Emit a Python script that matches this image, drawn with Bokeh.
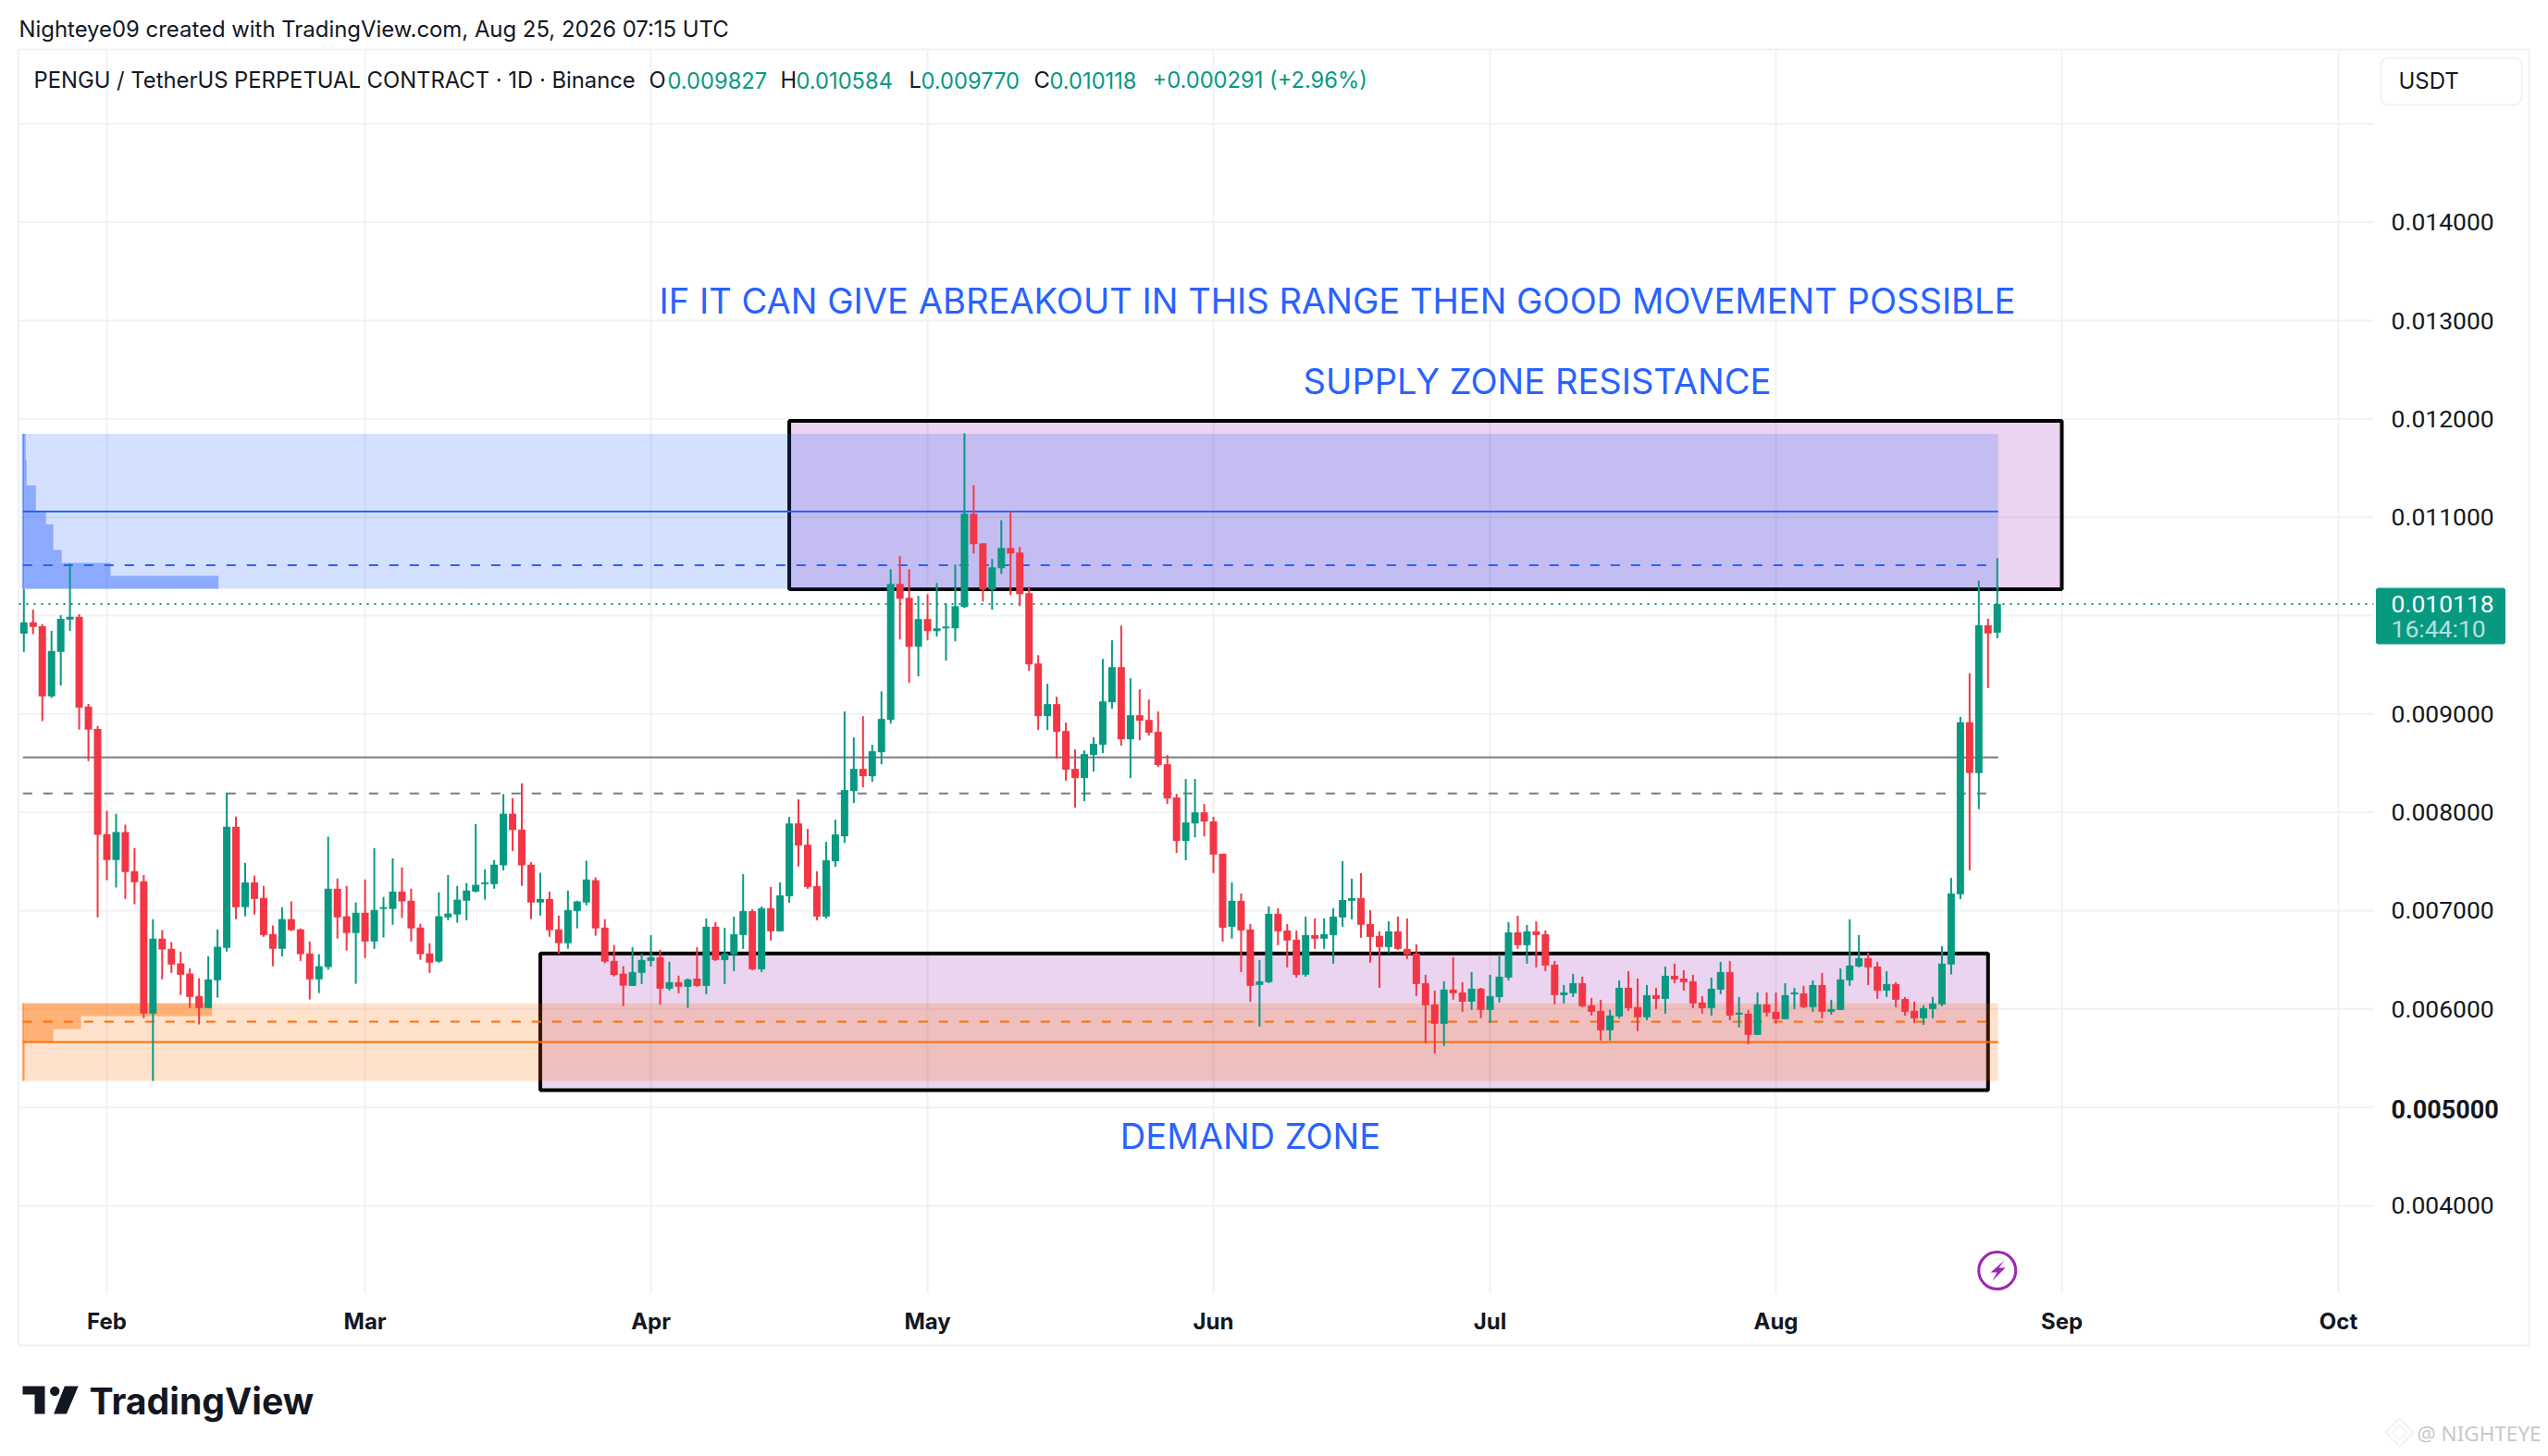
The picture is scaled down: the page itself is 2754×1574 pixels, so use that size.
import math
from bokeh.plotting import figure
from bokeh.embed import file_html
from bokeh.resources import INLINE
from bokeh.core.properties import value
from bokeh.models import (ColumnDataSource, FixedTicker, Label, BoxAnnotation, PolyAnnotation)

# ---- data, prices in millionths of USDT, one candle per day from 23 Jan 2026 ----
directions = ("GRRGGGRRRR" "GRRRGRRRRR" "GGGRGRRRGR" "RRGGRRGRGG" "GRRRRGGGGG"
              "GGGRRRGRRG" "GGRRRRGGGR" "GRGRGRGGGR" "GRGGRRRGGG" "GRGGGRRGRG"
              "GGGRRGGRRR" "RGRRRGGGGR" "GRRRRRGGRR" "RGRRGGRRRG" "RGGGGRRRGR"
              "RRRRGRRGRG" "GGRGRRRGGR" "RRGGRRGRGR" "RRRGGRGRGR" "RGGRGRGGGG"
              "RRGRRRGGGG" "GRGRG")
highs = [10270,10061,9914,9845,10004,10529,10014,9101,8878,8015,
 7986,7874,7637,7363,6914,6802,6680,6583,6414,6313,
 6536,6810,8198,7957,7486,7356,7252,6849,7036,7094,
 6820,6687,6558,7752,7327,7252,7083,7317,7637,7140,
 7533,7439,7223,6867,6669,7187,7363,7252,7281,7881,
 7421,7515,8184,8144,8295,7493,7385,7194,6950,7205,
 7101,7507,7338,6914,6651,6435,6630,6564,6752,6602,
 6480,6339,6310,6630,6921,6884,6827,6940,7372,7015,
 7043,7241,7288,7953,8132,7831,7401,7699,7925,9025,
 8762,8978,8686,9231,10472,10604,10472,10200,10218,10331,
 10124,10519,11854,11327,10735,10576,10970,11064,10698,10294,
 9598,9307,9175,8912,8639,8630,8762,9560,9749,9899,
 9363,9250,9147,9025,8583,8188,8339,8339,8085,7955,
 7579,7288,7175,6865,6498,7044,7025,6865,6799,6940,
 6921,6921,7025,7504,7326,7382,7006,6790,6893,6940,
 6921,6658,6348,6188,6282,6527,6273,6376,6216,6348,
 6555,6884,6949,6855,6893,6799,6489,6244,6357,6329,
 6113,6094,5991,6291,6385,6310,6244,6216,6432,6461,
 6395,6348,6132,6320,6479,6489,6122,5991,6169,6169,
 6169,6263,6216,6235,6291,6367,6094,6414,6912,6752,
 6573,6479,6385,6273,6122,6075,6038,6122,6639,7334,
 8971,9415,10355,9969,10584]
lows = [9630,9813,8928,9162,9291,9845,8842,8522,6932,7310,
 7234,7119,7065,5907,5270,6302,6367,6144,6011,5842,
 6011,6115,6583,6914,6943,6961,6734,6435,6536,6792,
 6489,6097,6162,6400,6716,6594,6256,6518,6612,6727,
 6856,6925,6687,6500,6367,6471,6903,6878,6903,7187,
 7112,7223,7410,7608,7252,6914,6950,6734,6561,6612,
 6820,7054,6745,6464,6331,6029,6235,6254,6433,6047,
 6188,6160,6010,6226,6151,6489,6254,6386,6611,6395,
 6376,6696,6790,7081,7449,7222,6902,6921,7446,7690,
 8094,8254,8310,8489,8902,9758,9316,9382,9749,9786,
 9542,9739,10077,10632,10143,10059,10425,10209,10096,9438,
 8837,8837,8545,8320,8047,8113,8414,8602,9053,8677,
 8348,8733,8780,8461,8085,7587,7512,7746,7756,7382,
 6686,6715,6376,6075,5822,6263,6649,6423,6320,6329,
 6611,6611,6461,6837,6912,6724,6470,6216,6574,6602,
 6508,6132,5653,5549,5624,6094,5972,5991,5906,5859,
 6066,6291,6611,6461,6423,6385,6047,6057,6122,6019,
 5934,5681,5681,5906,5981,5775,5887,6000,5953,6263,
 6188,6009,5953,5934,6151,5887,5812,5643,5737,5925,
 5850,5897,6000,6009,5972,5906,5944,5991,6235,6423,
 6244,6103,6122,6019,5934,5859,5840,5906,6028,6352,
 7116,7410,8031,9264,9770]
body_tops = [9932,9932,9892,9640,9968,9989,9989,9076,8849,7777,
 7799,7799,7403,7299,6716,6716,6612,6464,6360,6133,
 6302,6633,7853,7853,7288,7288,7130,6763,6914,6914,
 6810,6565,6435,7223,7223,6943,6979,6979,7007,7036,
 7194,7194,7101,6828,6565,6943,6971,7112,7205,7263,
 7288,7468,7986,7986,7824,7468,7119,7119,6810,7007,
 7094,7317,7310,6828,6489,6360,6376,6498,6527,6527,
 6273,6273,6301,6310,6837,6837,6564,6761,6996,6996,
 7025,7025,7156,7887,7887,7671,7250,7512,7775,8226,
 8442,8442,8621,8950,10322,10322,10181,9965,9965,9871,
 9889,10096,11036,11036,10735,10491,10688,10688,10641,10228,
 9513,9100,9100,8827,8442,8592,8696,9128,9476,9476,
 8987,8987,8940,8818,8489,8151,7897,8000,8000,7908,
 7579,7100,7100,6809,6282,6968,6968,6799,6705,6752,
 6752,6762,6940,7109,7128,7128,6865,6743,6790,6790,
 6611,6564,6263,6047,6198,6198,6169,6207,6207,6132,
 6329,6780,6780,6790,6790,6761,6451,6169,6263,6263,
 6038,5981,5934,6216,6216,6019,6141,6141,6338,6338,
 6310,6282,6066,6207,6376,6376,5963,5953,6047,6047,
 5972,6141,6169,6160,6244,6244,6000,6301,6442,6517,
 6517,6432,6254,6254,6103,5981,6009,6057,6461,7175,
 8916,8916,9902,9902,10118]
body_bottoms = [9817,9885,9180,9180,9630,9961,9065,8842,7770,7515,
 7515,7392,7288,5953,5953,6605,6453,6349,6122,6011,
 6011,6292,6622,7036,7036,7119,6752,6612,6612,6802,
 6558,6302,6302,6425,6932,6773,6773,6687,6687,7018,
 7018,7094,6820,6558,6471,6482,6932,6961,7101,7194,
 7270,7270,7461,7820,7461,7083,7083,6802,6669,6669,
 6997,7083,6820,6482,6346,6238,6235,6367,6489,6207,
 6207,6226,6226,6235,6235,6498,6498,6555,6752,6404,
 6404,6790,6790,7147,7662,7241,6940,6940,7502,7756,
 8216,8367,8367,8611,8940,10171,9683,9683,9842,9842,
 9871,9871,10087,10726,10265,10265,10482,10632,10218,9504,
 8978,8978,8818,8433,8348,8348,8583,8686,9119,8743,
 8743,8931,8809,8480,8141,7709,7709,7887,7906,7570,
 6827,6837,6799,6235,6245,6273,6790,6696,6348,6348,
 6715,6715,6752,6931,7100,6856,6733,6630,6630,6611,
 6555,6254,6038,5850,5850,6160,6075,6075,5991,5991,
 6122,6320,6649,6649,6752,6442,6141,6141,6160,6028,
 5972,5784,5784,5925,6009,5916,5916,6103,6103,6301,
 6273,6057,6009,6009,6197,5934,5944,5737,5737,5963,
 5897,5897,6150,6019,6019,5972,5972,5991,6291,6432,
 6423,6188,6188,6094,5972,5906,5906,6000,6047,6453,
 7166,8400,8400,9818,9827]
assert len(directions) == len(highs) == len(lows) == len(body_tops) == len(body_bottoms) == 215

month_labels = ["Feb", "Mar", "Apr", "May", "Jun", "Jul", "Aug", "Sep", "Oct"]
month_positions = [9, 37, 68, 98, 129, 159, 190, 221, 251]
price_ticks = [4000, 6000, 7000, 8000, 9000, 10000, 11000, 12000, 13000, 14000]
grid_prices = [4000, 5000, 6000, 7000, 8000, 9000, 10000, 11000, 12000, 13000, 14000, 15000]
last_close = 10118

# zones: [start candle, end candle, bottom price, top price]
supply_zone = [83, 221, 10269, 11979]
demand_zone = [56, 213, 5175, 6566]
# volume profiles
upper_range = [10273, 11848]
upper_bins = [21.2, 9.5, 4.2, 3.3, 3.3, 2.5, 1.4, 1.4, 0.4, 0.4, 0.3, 0.3]
upper_poc, upper_dash = 11059, 10513
lower_range = [5269, 6059]
lower_bins = [0.2, 0.2, 0.2, 3.3, 6.3, 20.5]
lower_poc, lower_dash = 5664, 5871
mid_solid, mid_dash = 8558, 8192
profile_start, profile_end = -0.1, 214.1

# ---- layout ----
W, H = 2754, 1574
PL, PR, PT, PB = 20, 2565, 53, 1398            # price pane in page pixels
def dx(X): return 9 + (X - 115) / 9.967
def dy(Y): return 14000 - (Y - 239.7) * 9.405

GREEN, RED, BLUE, ORANGE, GREY = "#089981", "#F23645", "#2962FF", "#FF6D00", "#787B86"
PURPLE = "#9C27B0"
GRID = "#F0F1F3"
INK = "#131722"
FONT = "Inter"
PRICE_FONT = "Roboto"

p = figure(width=W, height=H, output_backend="svg", toolbar_location=None,
           x_range=(dx(0), dx(W)), y_range=(dy(H), dy(0)), y_axis_location="right",
           min_border_left=0, min_border_right=0, min_border_top=0, min_border_bottom=0,
           background_fill_color="white", border_fill_color="white",
           outline_line_color=None)
p.grid.visible = False

p.xaxis.fixed_location = dy(PB)
p.xaxis.ticker = FixedTicker(ticks=month_positions)
p.xaxis.major_label_overrides = dict(zip(month_positions, month_labels))
p.xaxis.major_label_text_font = FONT
p.xaxis.major_label_text_font_style = "bold"
p.xaxis.major_label_text_font_size = "24px"
p.xaxis.major_label_text_color = INK
p.xaxis.major_label_standoff = 15
p.xaxis.major_tick_out = 0
p.xaxis.major_tick_in = 0
p.xaxis.axis_line_color = None
p.xaxis.major_tick_line_color = None
p.xaxis.minor_tick_line_color = None

p.yaxis.fixed_location = dx(PR)
p.yaxis.ticker = FixedTicker(ticks=price_ticks)
p.yaxis.major_label_overrides = {v: f"{v / 1e6:.6f}" for v in price_ticks}
p.yaxis.major_label_text_font = PRICE_FONT
p.yaxis.major_label_text_font_size = "26.5px"
p.yaxis.major_label_text_color = INK
p.yaxis.major_label_standoff = 19
p.yaxis.major_tick_out = 0
p.yaxis.major_tick_in = 0
p.yaxis.axis_line_color = None
p.yaxis.major_tick_line_color = None
p.yaxis.minor_tick_line_color = None

# grid, only inside the price pane
p.segment(x0=month_positions, x1=month_positions, y0=[dy(PB)] * len(month_positions),
          y1=[dy(PT)] * len(month_positions), line_color=GRID, line_width=2)
p.segment(x0=[dx(PL)] * len(grid_prices), x1=[dx(PR)] * len(grid_prices), y0=grid_prices, y1=grid_prices,
          line_color=GRID, line_width=2)

# frame round the chart and price box
fl, fr, ft, fb = dx(19.5), dx(2733), dy(53), dy(1454)
p.segment(x0=[fl, fl, fl, fr], x1=[fr, fr, fl, fr], y0=[ft, fb, fb, fb], y1=[ft, fb, ft, ft],
          line_color=GRID, line_width=2)
p.add_layout(BoxAnnotation(left=dx(2573), right=dx(2725), top=dy(62), bottom=dy(113),
                           fill_color="white", fill_alpha=1, line_color=GRID, line_alpha=1,
                           line_width=2, border_radius=8))

# zones
for z in (supply_zone, demand_zone):
    p.quad(left=[z[0]], right=[z[1]], bottom=[z[2]], top=[z[3]],
           fill_color=PURPLE, fill_alpha=0.2, line_color="black", line_width=4)

# volume profiles
def profile(rng, bins, color, poc, dash):
    p.quad(left=[profile_start], right=[profile_end], bottom=[rng[0]], top=[rng[1]],
           fill_color=color, fill_alpha=0.2, line_color=None)
    step = (rng[1] - rng[0]) / len(bins)
    bottoms = [rng[0] + k * step for k in range(len(bins))]
    tops = [b + step for b in bottoms]
    p.quad(left=[profile_start] * len(bins), right=[profile_start + b for b in bins],
           bottom=bottoms, top=tops, fill_color=color, fill_alpha=0.42, line_color=None)
    p.segment(x0=[profile_start], x1=[profile_start], y0=[rng[0]], y1=[rng[1]],
              line_color=color, line_width=2, line_alpha=0.5)
    p.segment(x0=[profile_start], x1=[profile_end], y0=[poc], y1=[poc], line_color=color, line_width=2)
    p.segment(x0=[profile_start], x1=[profile_end - 1], y0=[dash], y1=[dash],
              line_color=color, line_width=2, line_dash="10 12")

profile(upper_range, upper_bins, BLUE, upper_poc, upper_dash)
profile(lower_range, lower_bins, ORANGE, lower_poc, lower_dash)
p.segment(x0=[profile_start], x1=[profile_end], y0=[mid_solid], y1=[mid_solid], line_color=GREY, line_width=2)
p.segment(x0=[profile_start], x1=[profile_end - 1], y0=[mid_dash], y1=[mid_dash],
          line_color=GREY, line_width=2, line_dash="10 12")

# last price line
p.segment(x0=[dx(PL)], x1=[dx(PR)], y0=[last_close], y1=[last_close], line_color=GREEN, line_width=2, line_dash="2 6")

# candles
idx = list(range(len(highs)))
colors = [GREEN if d == "G" else RED for d in directions]
src = ColumnDataSource(dict(i=idx, high=highs, low=lows, top=body_tops, bottom=body_bottoms, color=colors))
p.segment(x0="i", x1="i", y0="low", y1="high", line_color="color", line_width=2, source=src)
p.vbar(x="i", width=0.8, top="top", bottom="bottom", fill_color="color", line_color=None, source=src)

# chart notes
notes = [("IF IT CAN GIVE ABREAKOUT IN THIS RANGE THEN GOOD MOVEMENT POSSIBLE", 1445, 324),
         ("SUPPLY ZONE RESISTANCE", 1661, 411),
         ("DEMAND ZONE", 1351, 1227)]
p.text(x=[dx(n[1]) for n in notes], y=[dy(n[2]) for n in notes], text=[n[0] for n in notes],
       text_font=value(FONT), text_font_size="38.1px", text_color=BLUE,
       text_align="center", text_baseline="middle")

# lightning mark
p.scatter(x=[214], y=[dy(1373)], marker="circle", size=40, fill_color=None, line_color=PURPLE, line_width=3)
bolt = [(2166, 1362), (2151, 1375), (2158, 1375), (2153, 1384), (2167, 1370), (2160, 1370)]
p.add_layout(PolyAnnotation(xs=[dx(a) for a, _ in bolt], ys=[dy(b) for _, b in bolt],
                            fill_color=PURPLE, fill_alpha=1, line_color=None))

# last price tag
p.add_layout(BoxAnnotation(left=dx(2567.5), right=dx(2707.5), top=dy(635), bottom=dy(696),
                           fill_color=GREEN, fill_alpha=1, line_color=None, border_radius=3))

def lab(text, X, Y, size, color=INK, style="normal", align="left", font=FONT):
    p.add_layout(Label(x=dx(X), y=dy(Y), text=text, text_font=font, text_font_size=f"{size}px",
                       text_color=color, text_font_style=style, text_align=align,
                       text_baseline="middle"))

lab("0.010118", 2584, 652, 26.5, "white", font=PRICE_FONT)
lab("16:44:10", 2584, 679, 26.5, "#B5E0D9", font=PRICE_FONT)
lab("0.005000", 2584, 1198, 27, style="bold", font=PRICE_FONT)
lab("USDT", 2592, 87, 24)

lab("Nighteye09 created with TradingView.com, Aug 25, 2026 07:15 UTC", 20, 31, 23.9)
lab("PENGU / TetherUS PERPETUAL CONTRACT · 1D · Binance", 36, 86, 23.8)
for t, X, c in [("O", 701, INK), ("0.009827", 721, GREEN), ("H", 843, INK),
                ("0.010584", 860, GREEN), ("L", 982, INK), ("0.009770", 995, GREEN),
                ("C", 1117, INK), ("0.010118", 1134, GREEN),
                ("+0.000291 (+2.96%)", 1245, GREEN)]:
    lab(t, X, 86, 23.7, c)

# footer logo
def poly(pts, color):
    p.add_layout(PolyAnnotation(xs=[dx(a) for a, _ in pts], ys=[dy(b) for _, b in pts],
                                fill_color=color, fill_alpha=1, line_color=None))
poly([(24, 1498), (48, 1498), (48, 1528), (37, 1528), (37, 1507), (24, 1507)], INK)
poly([(69.4, 1498), (84.2, 1498), (71.4, 1528), (57.6, 1528)], INK)
poly([(58.7 + 5.2 * math.cos(k * math.pi / 6), 1503.5 + 5.2 * math.sin(k * math.pi / 6)) for k in range(12)], INK)
lab("TradingView", 96, 1514, 39.2, style="bold")

# re-post watermark
for r, c in ((15, "#D5D5D5"), (8, "#DEDEDE")):
    p.add_layout(PolyAnnotation(xs=[dx(2593), dx(2593 + r), dx(2593), dx(2593 - r)],
                                ys=[dy(1548 - r), dy(1548), dy(1548 + r), dy(1548)],
                                fill_alpha=0, line_color=c, line_width=2))
lab("@ NIGHTEYE", 2612, 1549, 22.5, "#C8C8C8", font="Noto Sans")

open("out.html", "w").write(file_html(p, INLINE))
